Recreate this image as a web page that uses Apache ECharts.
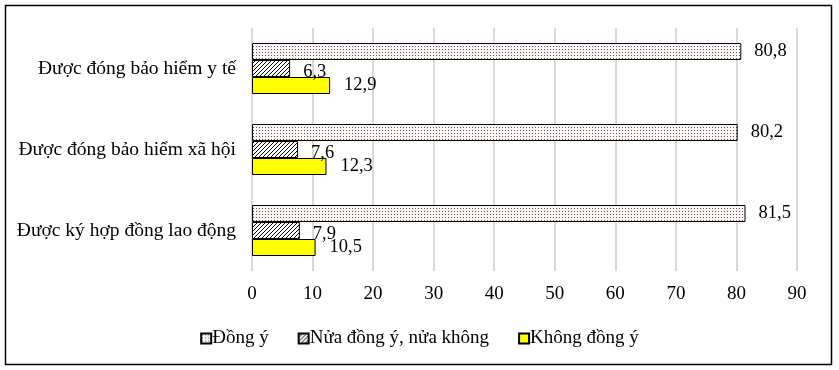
<!DOCTYPE html>
<html>
<head>
<meta charset="utf-8">
<script src="https://cdn.jsdelivr.net/npm/echarts@6/dist/echarts.min.js"></script>
<style>
  html, body { margin: 0; padding: 0; background: #fff; }
  #chart { width: 839px; height: 370px; }
</style>
</head>
<body>
<div id="chart"></div>
<script>
// categories, bottom to top as ECharts draws a y category axis
const categories = ['Được ký hợp đồng lao động', 'Được đóng bảo hiểm xã hội', 'Được đóng bảo hiểm y tế']
const seriesNames = ['Đồng ý', 'Nửa đồng ý, nửa không', 'Không đồng ý']
const dongY = [81.5, 80.2, 80.8]
const nuaDongY = [7.9, 7.6, 6.3]
const khongDongY = [10.5, 12.3, 12.9]
const xTicks = [0, 10, 20, 30, 40, 50, 60, 70, 80, 90]

const FONT = '"Liberation Serif", "Times New Roman", serif'

// dotted fill tile
function dotPattern () {
  const c = document.createElement('canvas')
  c.width = 3
  c.height = 3
  const ctx = c.getContext('2d')
  ctx.fillStyle = '#fff6f6'
  ctx.fillRect(0, 0, 3, 3)
  ctx.fillStyle = '#5e5656'
  ctx.fillRect(1, 1, 1, 1)
  return c
}

// diagonal hatch tile
function hatchPattern () {
  const c = document.createElement('canvas')
  c.width = 4
  c.height = 4
  const ctx = c.getContext('2d')
  ctx.fillStyle = '#fff'
  ctx.fillRect(0, 0, 4, 4)
  ctx.strokeStyle = '#000'
  ctx.lineWidth = 1
  ctx.beginPath()
  ctx.moveTo(-1, 5)
  ctx.lineTo(5, -1)
  ctx.moveTo(-1, 1)
  ctx.lineTo(1, -1)
  ctx.moveTo(3, 5)
  ctx.lineTo(5, 3)
  ctx.stroke()
  return c
}

const fmt = p => String(p.value).replace('.', ',')

let myChart = echarts.init(document.getElementById('chart'))

function barSeries (name, data, fill, dist, offY) {
  return {
    name: name,
    type: 'bar',
    data: data,
    barWidth: 17,
    barGap: '0%',
    itemStyle: { color: fill, borderColor: '#000', borderWidth: 1 },
    label: {
      show: true,
      position: 'right',
      distance: dist,
      offset: [0, offY],
      formatter: fmt,
      color: '#000',
      fontFamily: FONT,
      fontSize: 18.5
    }
  }
}

myChart.setOption({
  animation: false,
  textStyle: { fontFamily: FONT },
  graphic: [
    {
      type: 'rect',
      shape: { x: 5.5, y: 5.5, width: 826, height: 359 },
      style: { fill: 'none', stroke: '#000', lineWidth: 1.5 },
      z: 100
    }
  ],
  grid: { left: 252, right: 42, top: 28, bottom: 99 },
  legend: {
    top: 324,
    left: 'center',
    icon: 'rect',
    itemWidth: 10,
    itemHeight: 10,
    itemGap: 29,
    data: seriesNames,
    textStyle: { fontFamily: FONT, fontSize: 19, color: '#000', padding: [0, 0, 0, -4] }
  },
  xAxis: {
    type: 'value',
    min: 0,
    max: 90,
    interval: 10,
    axisLine: { show: false },
    axisTick: { show: false },
    splitLine: { show: true, lineStyle: { color: '#d9d9d9', width: 2 } },
    axisLabel: {
      color: '#000',
      fontFamily: FONT,
      fontSize: 19,
      margin: 14,
      formatter: v => xTicks.includes(v) ? String(v) : ''
    }
  },
  yAxis: {
    type: 'category',
    data: categories,
    axisLine: { show: false },
    axisTick: { show: false },
    axisLabel: { color: '#000', fontFamily: FONT, fontSize: 19.5, margin: 16 }
  },
  series: [
    barSeries(seriesNames[0], dongY, { image: dotPattern(), repeat: 'repeat' }, 13, 0),
    barSeries(seriesNames[1], nuaDongY, { image: hatchPattern(), repeat: 'repeat' }, 13, 4),
    barSeries(seriesNames[2], khongDongY, '#ffff00', 14, 0)
  ]
})
</script>
</body>
</html>
